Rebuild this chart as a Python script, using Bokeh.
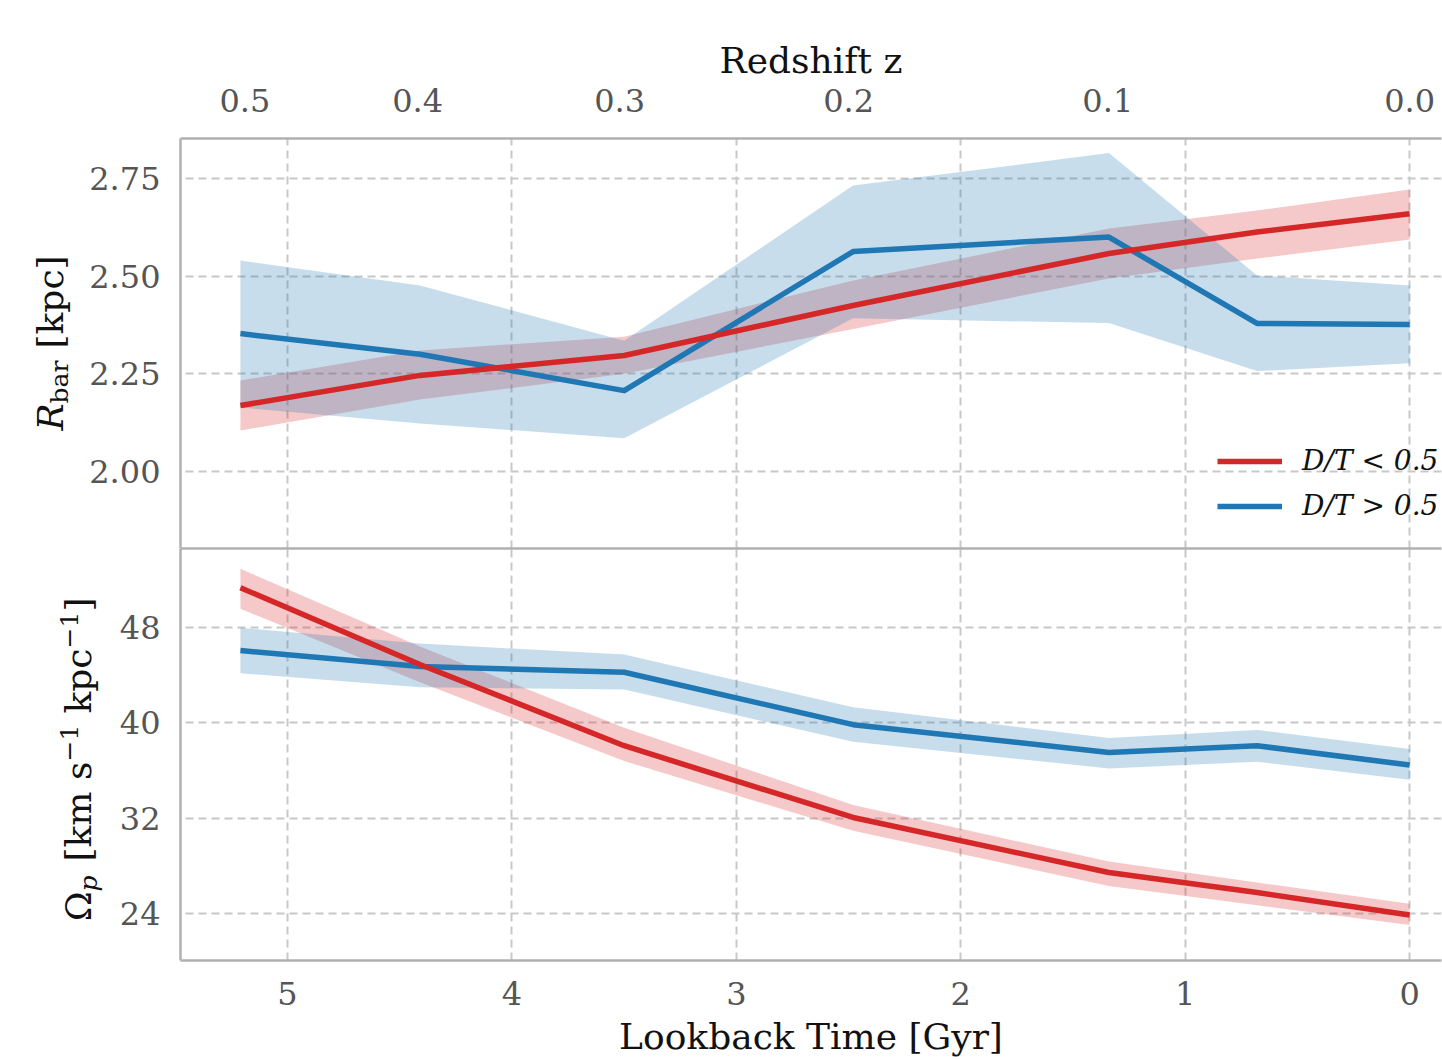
import math
from bokeh.plotting import figure
from bokeh.layouts import column, row
from bokeh.models import (Range1d, LinearAxis, FixedTicker, PrintfTickFormatter,
                          Legend, LegendItem)
from bokeh.core.properties import value
from bokeh.embed import file_html
from bokeh.resources import INLINE

# ---------------- data ----------------
lookback = [5.21, 4.41, 3.50, 2.48, 1.34, 0.68, 0.0]

rbar_bulgy = [2.169, 2.246, 2.297, 2.425, 2.558, 2.613, 2.660]
rbar_bulgy_lo = [2.105, 2.184, 2.250, 2.365, 2.494, 2.545, 2.594]
rbar_bulgy_hi = [2.233, 2.310, 2.345, 2.489, 2.622, 2.668, 2.722]

rbar_disky = [2.353, 2.300, 2.207, 2.563, 2.600, 2.379, 2.376]
rbar_disky_lo = [2.164, 2.123, 2.085, 2.392, 2.380, 2.257, 2.277]
rbar_disky_hi = [2.540, 2.476, 2.335, 2.732, 2.815, 2.502, 2.476]

omega_bulgy = [51.34, 44.90, 38.08, 32.06, 27.44, 25.76, 23.88]
omega_bulgy_lo = [49.57, 43.40, 36.80, 30.94, 26.32, 24.70, 23.04]
omega_bulgy_hi = [52.93, 46.40, 39.60, 33.10, 28.36, 26.60, 24.83]

omega_disky = [46.07, 44.72, 44.25, 39.85, 37.52, 38.08, 36.46]
omega_disky_lo = [44.16, 42.98, 42.79, 38.42, 36.18, 36.74, 35.22]
omega_disky_hi = [47.97, 46.65, 45.73, 41.30, 38.73, 39.40, 37.81]

lookback_ticks = [5, 4, 3, 2, 1, 0]
redshift_ticks = [5.19, 4.42, 3.52, 2.50, 1.345, 0.0]
redshift_labels = ["0.5", "0.4", "0.3", "0.2", "0.1", "0.0"]
rbar_ticks = [2.00, 2.25, 2.50, 2.75]
omega_ticks = [24, 32, 40, 48]
legend_labels = ["D/T < 0.5", "D/T > 0.5"]

# ---------------- style ----------------
RED = "#d62728"
BLUE = "#1f77b4"
FONT = "DejaVu Serif"
SPINE = "#b0b0b0"
GRID = "#c8c8c8"
TICKC = "#555555"
TXT = "#111111"
TICK_SIZE = "32px"
LABEL_SIZE = "36px"
LW = 5.5

# page geometry of the two plot frames
FRAME1_TOP, FRAME1_BOT = 138, 548
FRAME2_TOP, FRAME2_BOT = 548, 960
PAGE_H = 1060


def style_axis(ax, ticks, standoff):
    ax.ticker = FixedTicker(ticks=ticks)
    ax.major_tick_line_color = None
    ax.minor_tick_line_color = None
    ax.major_tick_out = 0
    ax.major_tick_in = 0
    ax.axis_line_color = SPINE
    ax.axis_line_width = 2.5
    ax.major_label_text_font = FONT
    ax.major_label_text_font_size = TICK_SIZE
    ax.major_label_text_color = TICKC
    ax.major_label_standoff = standoff
    ax.axis_label_text_font = FONT
    ax.axis_label_text_font_size = LABEL_SIZE
    ax.axis_label_text_font_style = "normal"
    ax.axis_label_text_color = TXT


def line_only_axis():
    ax = LinearAxis(ticker=FixedTicker(ticks=[]))
    ax.major_tick_line_color = None
    ax.minor_tick_line_color = None
    ax.major_tick_out = 0
    ax.major_tick_in = 0
    ax.major_label_standoff = 0
    ax.axis_line_color = SPINE
    ax.axis_line_width = 2.5
    return ax


def style_grid(p, xticks, yticks):
    p.xgrid[0].ticker = FixedTicker(ticks=xticks)
    p.ygrid[0].ticker = FixedTicker(ticks=yticks)
    for g in (p.xgrid[0], p.ygrid[0]):
        g.grid_line_color = GRID
        g.grid_line_width = 2
        g.grid_line_dash = "8 5"


def strip(w, h, frame_top, frame_bot):
    """Blank side figure; its frame is aligned with the neighbouring plot's
    frame, so data units are page pixels (y measured downward)."""
    f = figure(width=w, height=h, x_range=Range1d(0, w),
               y_range=Range1d(-frame_bot, -frame_top), title=None,
               output_backend="svg", toolbar_location=None,
               x_axis_location=None, y_axis_location=None,
               min_border=0, outline_line_color=None,
               background_fill_color="white", border_fill_color="white")
    f.grid.visible = False
    return f


def put_vtext(f, baseline_x, y, text, size_px, style="normal", align="left"):
    # bokeh draws an "alphabetic" anchored text about 1/3 em below its anchor
    f.text(x=[baseline_x - size_px / 3.0], y=[-y], text=[text],
           text_font=value(FONT), text_font_size=value("%dpx" % size_px),
           text_font_style=style, text_align=align,
           text_baseline="alphabetic", angle=math.pi / 2, text_color=TXT)


x_range = Range1d(5.477, -0.142)

# ---------------- top panel ----------------
p1 = figure(width=1360, height=FRAME1_BOT, x_range=x_range,
            y_range=Range1d(1.8029, 2.8524),
            output_backend="svg", toolbar_location=None,
            min_border_left=98, min_border_right=1,
            min_border_top=FRAME1_TOP, min_border_bottom=0,
            outline_line_color=None, background_fill_color="white",
            border_fill_color="white")

# bottom spine only (shared boundary with lower panel)
p1.xaxis[0].ticker = FixedTicker(ticks=[])
p1.xaxis[0].major_tick_line_color = None
p1.xaxis[0].minor_tick_line_color = None
p1.xaxis[0].major_tick_out = 0
p1.xaxis[0].major_label_standoff = 0
p1.xaxis[0].axis_line_color = SPINE
p1.xaxis[0].axis_line_width = 2.5

style_axis(p1.yaxis[0], rbar_ticks, 20)
p1.yaxis[0].formatter = PrintfTickFormatter(format="%.2f")

top_ax = LinearAxis(axis_label="Redshift z")
style_axis(top_ax, redshift_ticks, 27)
top_ax.axis_label_standoff = 5
top_ax.major_label_overrides = dict(zip(redshift_ticks, redshift_labels))
p1.add_layout(top_ax, "above")
style_grid(p1, lookback_ticks, rbar_ticks)

p1.varea(lookback, rbar_bulgy_lo, rbar_bulgy_hi, fill_color=RED, fill_alpha=0.25)
p1.varea(lookback, rbar_disky_lo, rbar_disky_hi, fill_color=BLUE, fill_alpha=0.25)
r_blue = p1.line(lookback, rbar_disky, line_color=BLUE, line_width=LW, line_join="round")
r_red = p1.line(lookback, rbar_bulgy, line_color=RED, line_width=LW, line_join="round")

legend = Legend(items=[LegendItem(label=legend_labels[0], renderers=[r_red]),
                       LegendItem(label=legend_labels[1], renderers=[r_blue])],
                location=(1037, 26))
legend.label_text_font = FONT
legend.label_text_font_style = "italic"
legend.label_text_font_size = "28px"
legend.label_text_color = TXT
legend.glyph_width = 65
legend.glyph_height = 32
legend.label_height = 32
legend.label_standoff = 20
legend.spacing = 12
legend.padding = 0
legend.margin = 0
legend.border_line_color = None
legend.background_fill_alpha = 0
p1.add_layout(legend)

# y title of top panel:  R_bar [kpc]
strip1 = strip(82, FRAME1_BOT, FRAME1_TOP, FRAME1_BOT)
put_vtext(strip1, 62, 403, "R", 36, style="italic", align="right")
put_vtext(strip1, 67, 403, "bar", 25)
put_vtext(strip1, 62, 348, "[kpc]", 36)

# ---------------- bottom panel ----------------
P2_H = PAGE_H - FRAME2_TOP
p2 = figure(width=1336, height=P2_H, x_range=x_range,
            y_range=Range1d(20.06, 54.63),
            output_backend="svg", toolbar_location=None,
            min_border_left=74, min_border_right=1,
            min_border_top=0, min_border_bottom=PAGE_H - FRAME2_BOT,
            outline_line_color=None, background_fill_color="white",
            border_fill_color="white")

style_axis(p2.xaxis[0], lookback_ticks, 21)
p2.xaxis[0].axis_label = "Lookback Time [Gyr]"
p2.xaxis[0].axis_label_standoff = 8
style_axis(p2.yaxis[0], omega_ticks, 20)
p2.add_layout(line_only_axis(), "above")
style_grid(p2, lookback_ticks, omega_ticks)

p2.varea(lookback, omega_bulgy_lo, omega_bulgy_hi, fill_color=RED, fill_alpha=0.25)
p2.varea(lookback, omega_disky_lo, omega_disky_hi, fill_color=BLUE, fill_alpha=0.25)
p2.line(lookback, omega_disky, line_color=BLUE, line_width=LW, line_join="round")
p2.line(lookback, omega_bulgy, line_color=RED, line_width=LW, line_join="round")

# y title of bottom panel:  Omega_p [km s^-1 kpc^-1]
strip2 = strip(106, P2_H, FRAME2_TOP, FRAME2_BOT)
put_vtext(strip2, 90, 891, "\u03a9", 36, align="right")
put_vtext(strip2, 96, 891, "p", 25, style="italic")
put_vtext(strip2, 90, 861, "[km s", 36)
put_vtext(strip2, 77, 761, "\u22121", 25)
put_vtext(strip2, 90, 713, "kpc", 36)
put_vtext(strip2, 77, 648, "\u22121", 25)
put_vtext(strip2, 90, 611, "]", 36)

layout = column(row(strip1, p1, spacing=0),
                row(strip2, p2, spacing=0),
                spacing=0)

open("out.html", "w").write(file_html(layout, INLINE))
